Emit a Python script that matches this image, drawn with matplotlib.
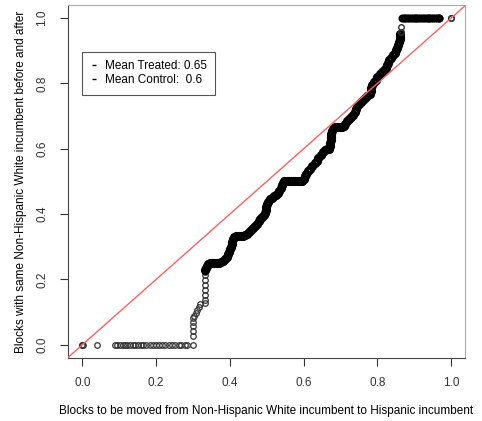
#!/usr/bin/env python

import matplotlib
matplotlib.use('Agg')

import matplotlib.pyplot as plt
from matplotlib.lines import Line2D

plt.rcParams['font.family'] = ['Liberation Sans', 'DejaVu Sans']

# quantiles: control (x) vs treated (y)
# bottom row, y = 0
row0_x = [0.0, 0.0, 0.001, 0.040, 0.088, 0.094, 0.102, 0.109, 0.116, 0.122,
          0.129, 0.138, 0.142, 0.150, 0.160, 0.165, 0.172, 0.183, 0.192, 0.201,
          0.209, 0.216, 0.225, 0.234, 0.243, 0.252, 0.261, 0.268, 0.278, 0.283,
          0.299]
row0_y = [0.0] * len(row0_x)

# sparse climb just after 0.3
rise_x = [0.300, 0.300, 0.300, 0.301, 0.301, 0.304, 0.307, 0.311, 0.316, 0.320,
          0.332, 0.332, 0.332, 0.332, 0.332, 0.332, 0.332, 0.332]
rise_y = [0.028, 0.043, 0.056, 0.071, 0.082, 0.087, 0.097, 0.107, 0.117, 0.125,
          0.128, 0.138, 0.153, 0.168, 0.183, 0.199, 0.214, 0.224]

# dense staircase
band_x = [0.332, 0.335, 0.338, 0.342, 0.346, 0.352, 0.358, 0.364, 0.370, 0.376,
          0.381, 0.386, 0.391, 0.395, 0.398, 0.401, 0.403, 0.405, 0.407, 0.409,
          0.412, 0.418, 0.424, 0.430, 0.436, 0.442, 0.447, 0.452, 0.458, 0.463,
          0.468, 0.473, 0.478, 0.483, 0.488, 0.493, 0.496, 0.498, 0.499, 0.501,
          0.504, 0.508, 0.513, 0.519, 0.525, 0.530, 0.534, 0.538, 0.541, 0.544,
          0.548, 0.554, 0.560, 0.566, 0.572, 0.578, 0.584, 0.590, 0.596, 0.600,
          0.603, 0.607, 0.612, 0.618, 0.624, 0.630, 0.635, 0.640, 0.646, 0.652,
          0.658, 0.664, 0.670, 0.672, 0.672, 0.673, 0.673, 0.674, 0.676, 0.680,
          0.686, 0.692, 0.698, 0.704, 0.709, 0.713, 0.717, 0.723, 0.729, 0.735,
          0.739, 0.742, 0.745, 0.749, 0.755, 0.761, 0.767, 0.773, 0.779, 0.782,
          0.784, 0.786, 0.790, 0.795, 0.800, 0.806, 0.812, 0.818, 0.823, 0.826,
          0.829, 0.832, 0.837, 0.843, 0.848, 0.851, 0.853, 0.856, 0.859, 0.861,
          0.862, 0.862]
band_y = [0.229, 0.236, 0.242, 0.247, 0.250, 0.250, 0.250, 0.250, 0.251, 0.253,
          0.258, 0.264, 0.270, 0.277, 0.285, 0.293, 0.300, 0.307, 0.315, 0.323,
          0.330, 0.333, 0.333, 0.333, 0.334, 0.335, 0.339, 0.344, 0.350, 0.357,
          0.364, 0.371, 0.378, 0.385, 0.390, 0.396, 0.403, 0.412, 0.421, 0.430,
          0.438, 0.445, 0.450, 0.454, 0.459, 0.465, 0.472, 0.480, 0.488, 0.495,
          0.500, 0.500, 0.500, 0.500, 0.500, 0.500, 0.500, 0.500, 0.502, 0.508,
          0.516, 0.524, 0.531, 0.538, 0.546, 0.555, 0.564, 0.573, 0.582, 0.590,
          0.596, 0.598, 0.600, 0.608, 0.617, 0.626, 0.635, 0.644, 0.653, 0.661,
          0.666, 0.667, 0.667, 0.667, 0.670, 0.677, 0.685, 0.692, 0.698, 0.704,
          0.712, 0.721, 0.730, 0.738, 0.743, 0.749, 0.755, 0.762, 0.769, 0.777,
          0.786, 0.795, 0.803, 0.811, 0.819, 0.828, 0.835, 0.840, 0.846, 0.855,
          0.864, 0.872, 0.879, 0.886, 0.893, 0.901, 0.910, 0.919, 0.927, 0.935,
          0.943, 0.950]

# top row, y = 1
top_x = [0.864, 0.864, 0.866, 0.871, 0.876, 0.881, 0.886, 0.891, 0.896, 0.901,
         0.906, 0.911, 0.916, 0.921, 0.926, 0.931, 0.936, 0.941, 0.946, 0.951,
         0.956, 0.961, 0.966, 0.968, 1.0, 1.0]
top_y = [0.958, 0.973, 1.0, 1.0, 1.0, 1.0, 1.0, 1.0, 1.0, 1.0,
         1.0, 1.0, 1.0, 1.0, 1.0, 1.0, 1.0, 1.0, 1.0, 1.0,
         1.0, 1.0, 1.0, 1.0, 1.0, 1.0]

mean_treated = 0.65
mean_control = 0.6

xticks = [0.0, 0.2, 0.4, 0.6, 0.8, 1.0]
yticks = [0.0, 0.2, 0.4, 0.6, 0.8, 1.0]


def main():
  fig = plt.figure(figsize=(4.82, 4.21), dpi=100)
  ax = fig.add_axes([0.141, 0.150, 0.824, 0.838])

  circ = dict(linestyle='none', marker='o', markerfacecolor='none')

  # sparse points: thin grey-ish circles
  ax.plot(row0_x + rise_x, row0_y + rise_y, markersize=4.0,
          markeredgecolor='#333333', markeredgewidth=0.9, **circ)
  # dense part overlaps into a solid black band
  ax.plot(band_x, band_y, markersize=4.6, markeredgecolor='black',
          markeredgewidth=2.0, **circ)
  ax.plot(top_x[2:-2], top_y[2:-2], markersize=4.2, markeredgecolor='black',
          markeredgewidth=1.6, **circ)
  ax.plot(top_x[:2] + top_x[-2:], top_y[:2] + top_y[-2:], markersize=4.0,
          markeredgecolor='#333333', markeredgewidth=1.0, **circ)

  ax.axline((0, 0), (1, 1), color='#ff6161', linewidth=1.0, zorder=3)

  ax.set_xlim(-0.039, 1.038)
  ax.set_ylim(-0.040, 1.040)
  ax.set_xticks(xticks)
  ax.set_yticks(yticks)
  ax.set_xticklabels(['%.1f' % t for t in xticks])
  ax.set_yticklabels(['%.1f' % t for t in yticks], rotation=90, va='center')
  ax.tick_params(direction='out', length=6, width=0.8, labelsize=8.5,
                 colors='#333333', pad=8)

  for side in ['left', 'bottom']:
    ax.spines[side].set_color('#444444')
  for side in ['top', 'right']:
    ax.spines[side].set_color('#aaaaaa')

  ax.set_xlabel('Blocks to be moved from Non-Hispanic White incumbent to Hispanic incumbent',
                fontsize=8.5, labelpad=11)
  ax.set_ylabel('Blocks with same Non-Hispanic White incumbent before and after',
                fontsize=8.5, labelpad=7)

  handles = [Line2D([], [], linestyle='none', marker='_', color='black',
                    markersize=3.5) for _ in range(2)]
  labels = ['Mean Treated: %s' % mean_treated, 'Mean Control:  %s' % mean_control]
  leg = ax.legend(handles, labels, loc='upper left', bbox_to_anchor=(0.0, 0.897),
                  bbox_transform=ax.transData, fontsize=8.5, frameon=True,
                  fancybox=False, edgecolor='#555555', framealpha=1,
                  handlelength=0.6, handletextpad=0.6, borderpad=0.7,
                  labelspacing=0.2, borderaxespad=0)
  leg.get_frame().set_linewidth(0.8)

  fig.savefig('out.png', dpi=100)


if __name__ == '__main__':
  main()
